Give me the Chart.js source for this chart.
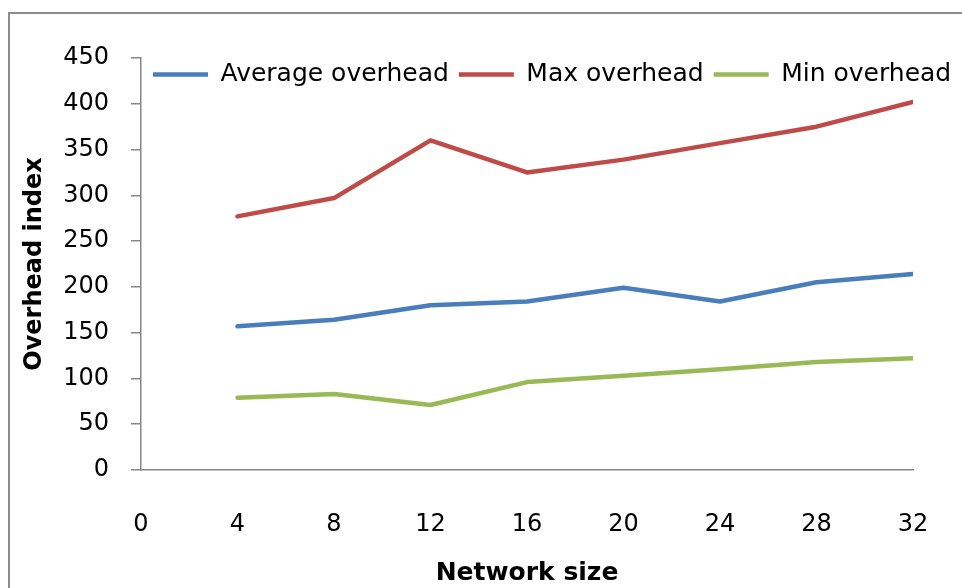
<!DOCTYPE html>
<html>
<head>
<meta charset="utf-8">
<script src="https://cdn.jsdelivr.net/npm/chart.js@4/dist/chart.umd.min.js"></script>
<style>
  html, body { margin: 0; padding: 0; background: #ffffff; }
  #frame {
    position: absolute; left: 8px; top: 12px; width: 1000px; height: 600px;
    border-left: 2px solid #8c8c8c; border-top: 2px solid #8c8c8c;
  }
  #wrap { position: absolute; left: 0; top: 0; width: 962px; height: 588px; }
</style>
</head>
<body>
<div id="frame"></div>
<div id="wrap"><canvas id="chart" width="962" height="588"></canvas></div>
<script>
// Network sizes and the overhead index measured at each size
const networkSizes = [4, 8, 12, 16, 20, 24, 28, 32];
const averageOverhead = [157, 164, 180, 184, 199, 184, 205, 214];
const maxOverhead = [277, 297, 360, 325, 339, 357, 375, 402];
const minOverhead = [79, 83, 71, 96, 103, 110, 118, 122];
const seriesNames = ['Average overhead', 'Max overhead', 'Min overhead'];
const seriesColors = ['#4A7EBB', '#BE4B48', '#98B954'];

const toPoints = (values) => networkSizes.map((x, i) => ({ x: x, y: values[i] }));

const axisGray = '#868686';
const FONT = "'DejaVu Sans', sans-serif";

// Legend sits inside the top of the plot, so it takes no layout height
const legendPlacement = {
  id: 'legendPlacement',
  beforeInit(chart) {
    const legend = chart.legend;
    const origFit = legend.fit.bind(legend);
    legend.fit = function () { origFit(); this.height = 0; };
  },
  afterLayout(chart) {
    const legend = chart.legend;
    legend.top = 52;
    legend.bottom = 102;
    legend.height = 50;
    legend.left = 143;
    legend.right = 962;
    legend.width = 819;
  }
};

new Chart(document.getElementById('chart'), {
  type: 'scatter',
  data: {
    datasets: [averageOverhead, maxOverhead, minOverhead].map((vals, i) => ({
      label: seriesNames[i],
      data: toPoints(vals),
      showLine: true,
      borderColor: seriesColors[i],
      backgroundColor: seriesColors[i],
      borderWidth: 4.5,
      borderCapStyle: 'round',
      borderJoinStyle: 'round',
      pointRadius: 0,
      pointHoverRadius: 0,
      tension: 0
    }))
  },
  options: {
    responsive: false,
    animation: false,
    events: [],
    layout: { padding: { top: 58, left: 10, right: 49, bottom: 0 } },
    plugins: {
      tooltip: { enabled: false },
      legend: {
        position: 'top',
        align: 'start',
        labels: {
          usePointStyle: true,
          pointStyle: 'line',
          pointStyleWidth: 55,
          padding: 10,
          color: '#000000',
          font: { family: FONT, size: 25 }
        }
      }
    },
    scales: {
      x: {
        type: 'linear',
        min: 0,
        max: 32,
        afterFit(scale) { scale.height = 118; },
        ticks: {
          stepSize: 4,
          padding: 32,
          color: '#000000',
          font: { family: FONT, size: 24 }
        },
        grid: { display: false },
        border: { display: true, color: axisGray, width: 1.5 },
        title: {
          display: true,
          text: 'Network size',
          color: '#000000',
          font: { family: FONT, size: 25, weight: 'bold' },
          padding: { top: 0, bottom: 0 }
        }
      },
      y: {
        type: 'linear',
        min: 0,
        max: 450,
        afterFit(scale) { scale.width = 131; },
        ticks: {
          stepSize: 50,
          padding: 22,
          color: '#000000',
          font: { family: FONT, size: 24 }
        },
        grid: {
          display: true,
          drawOnChartArea: false,
          drawTicks: true,
          tickLength: 10,
          color: axisGray,
          lineWidth: 1.5
        },
        border: { display: true, color: axisGray, width: 1.5 },
        title: {
          display: true,
          text: 'Overhead index',
          color: '#000000',
          font: { family: FONT, size: 24, weight: 'bold' },
          padding: { top: 10, bottom: 0 }
        }
      }
    }
  },
  plugins: [legendPlacement]
});
</script>
</body>
</html>
